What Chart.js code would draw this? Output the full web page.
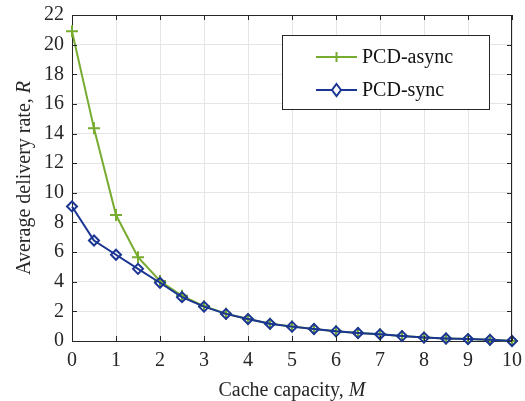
<!DOCTYPE html>
<html>
<head>
<meta charset="utf-8">
<script src="https://cdn.jsdelivr.net/npm/chart.js@4.4.1/dist/chart.umd.min.js"></script>
<style>
  html, body { margin: 0; padding: 0; background: #fff; }
  #wrap { width: 525px; height: 401px; position: relative; }
</style>
</head>
<body>
<div id="wrap"><canvas id="c"></canvas></div>
<script>
// cache capacity M (x values)
var capacity = [0, 0.5, 1, 1.5, 2, 2.5, 3, 3.5, 4, 4.5, 5, 5.5, 6, 6.5, 7, 7.5, 8, 8.5, 9, 9.5, 10];
// average delivery rate R
var rateAsync = [20.9, 14.35, 8.5, 5.65, 4.05, 3.05, 2.35, 1.84, 1.49, 1.17, 0.98, 0.81, 0.66, 0.54, 0.45, 0.33, 0.23, 0.17, 0.13, 0.08, 0.0];
var rateSync  = [9.08, 6.78, 5.82, 4.87, 3.93, 2.96, 2.32, 1.83, 1.48, 1.16, 0.97, 0.81, 0.65, 0.54, 0.45, 0.33, 0.23, 0.17, 0.13, 0.08, 0.0];
var seriesNames = ['PCD-async', 'PCD-sync'];
var xTicks = [0, 1, 2, 3, 4, 5, 6, 7, 8, 9, 10];
var yTicks = [0, 2, 4, 6, 8, 10, 12, 14, 16, 18, 20, 22];

var GREEN = '#77ac30';
var BLUE  = '#1b3593';
var SERIF = '"Liberation Serif", "Times New Roman", serif';

function toPoints(xs, ys) {
  return xs.map(function(x, i) { return { x: x, y: ys[i] }; });
}

// box, inward ticks, axis titles (with italic symbol) and legend
var extras = {
  id: 'extras',
  afterDraw: function(chart) {
    var ctx = chart.ctx;
    var a = chart.chartArea;
    var xs = chart.scales.x, ys = chart.scales.y;
    ctx.save();

    // top and right box edges
    ctx.strokeStyle = '#262626';
    ctx.lineWidth = 1;
    ctx.beginPath();
    ctx.moveTo(a.left, Math.round(a.top) + 0.5); ctx.lineTo(a.right, Math.round(a.top) + 0.5);
    ctx.moveTo(Math.round(a.right) - 0.5, a.top); ctx.lineTo(Math.round(a.right) - 0.5, a.bottom);
    ctx.stroke();

    // inward ticks on all four sides
    ctx.beginPath();
    xTicks.forEach(function(v) {
      var px = Math.round(xs.getPixelForValue(v)) + 0.5;
      ctx.moveTo(px, a.bottom); ctx.lineTo(px, a.bottom - 5);
      ctx.moveTo(px, a.top); ctx.lineTo(px, a.top + 5);
    });
    yTicks.forEach(function(v) {
      var py = Math.round(ys.getPixelForValue(v)) + 0.5;
      ctx.moveTo(a.left, py); ctx.lineTo(a.left + 5, py);
      ctx.moveTo(a.right, py); ctx.lineTo(a.right - 5, py);
    });
    ctx.stroke();

    // x title
    ctx.fillStyle = '#262626';
    ctx.textBaseline = 'alphabetic';
    var t1 = 'Cache capacity, ', t2 = 'M';
    ctx.font = '20px ' + SERIF;
    var w1 = ctx.measureText(t1).width;
    ctx.font = 'italic 20px ' + SERIF;
    var w2 = ctx.measureText(t2).width;
    var cx = (a.left + a.right) / 2 - (w1 + w2) / 2;
    ctx.textAlign = 'left';
    ctx.font = '20px ' + SERIF;
    ctx.fillText(t1, cx, 396);
    ctx.font = 'italic 20px ' + SERIF;
    ctx.fillText(t2, cx + w1, 396);

    // y title (rotated)
    var s1 = 'Average delivery rate, ', s2 = 'R';
    ctx.font = '20px ' + SERIF;
    var v1 = ctx.measureText(s1).width;
    ctx.font = 'italic 20px ' + SERIF;
    var v2 = ctx.measureText(s2).width;
    ctx.save();
    ctx.translate(30, (a.top + a.bottom) / 2);
    ctx.rotate(-Math.PI / 2);
    var sx = -(v1 + v2) / 2;
    ctx.font = '20px ' + SERIF;
    ctx.fillText(s1, sx, 0);
    ctx.font = 'italic 20px ' + SERIF;
    ctx.fillText(s2, sx + v1, 0);
    ctx.restore();

    // legend
    var bx = 282.5, by = 35.5, bw = 207, bh = 74;
    ctx.fillStyle = '#fff';
    ctx.fillRect(bx, by, bw, bh);
    ctx.strokeStyle = '#262626';
    ctx.lineWidth = 1;
    ctx.strokeRect(bx, by, bw, bh);
    var rows = [57, 90];
    var colors = [GREEN, BLUE];
    rows.forEach(function(ry, i) {
      ctx.strokeStyle = colors[i];
      ctx.lineWidth = 2;
      ctx.beginPath();
      ctx.moveTo(316, ry); ctx.lineTo(357, ry);
      ctx.stroke();
      var mx = 336.5;
      ctx.beginPath();
      if (i === 0) {
        ctx.moveTo(mx - 5, ry); ctx.lineTo(mx + 5, ry);
        ctx.moveTo(mx, ry - 5); ctx.lineTo(mx, ry + 5);
        ctx.stroke();
      } else {
        ctx.moveTo(mx, ry - 6); ctx.lineTo(mx + 4.5, ry);
        ctx.lineTo(mx, ry + 6); ctx.lineTo(mx - 4.5, ry);
        ctx.closePath();
        ctx.fillStyle = '#fff';
        ctx.fill();
        ctx.stroke();
      }
      ctx.fillStyle = '#111';
      ctx.font = '20px ' + SERIF;
      ctx.textAlign = 'left';
      ctx.textBaseline = 'middle';
      ctx.fillText(seriesNames[i], 362, ry + 1);
    });

    ctx.restore();
  }
};

new Chart(document.getElementById('c'), {
  type: 'line',
  data: {
    datasets: [
      {
        label: seriesNames[0],
        data: toPoints(capacity, rateAsync),
        borderColor: GREEN,
        backgroundColor: GREEN,
        borderWidth: 2,
        pointStyle: 'cross',
        pointRadius: 6,
        pointBorderWidth: 2,
        tension: 0,
        clip: false,
        order: 2
      },
      {
        label: seriesNames[1],
        data: toPoints(capacity, rateSync),
        borderColor: BLUE,
        backgroundColor: 'rgba(0,0,0,0)',
        borderWidth: 2,
        pointStyle: 'rectRot',
        pointRadius: 5,
        pointBorderWidth: 2,
        tension: 0,
        clip: false,
        order: 1
      }
    ]
  },
  options: {
    responsive: true,
    maintainAspectRatio: false,
    animation: false,
    layout: { autoPadding: false, padding: { left: 0, right: 13, top: 15, bottom: 0 } },
    plugins: {
      legend: { display: false },
      tooltip: { enabled: false }
    },
    scales: {
      x: {
        type: 'linear',
        min: 0, max: 10,
        afterFit: function(s) { s.height = 60; s.paddingLeft = 0; s.paddingRight = 0; },
        afterBuildTicks: function(s) { s.ticks = xTicks.map(function(v) { return { value: v }; }); },
        grid: { color: '#e5e5e5', drawTicks: false },
        border: { color: '#262626', width: 1 },
        ticks: { font: { family: SERIF, size: 20 }, color: '#262626', padding: 8, maxRotation: 0 }
      },
      y: {
        min: 0, max: 22,
        afterFit: function(s) { s.width = 72; s.paddingTop = 0; s.paddingBottom = 0; },
        afterBuildTicks: function(s) { s.ticks = yTicks.map(function(v) { return { value: v }; }); },
        grid: { color: '#e5e5e5', drawTicks: false },
        border: { color: '#262626', width: 1 },
        ticks: { font: { family: SERIF, size: 20 }, color: '#262626', padding: 8 }
      }
    }
  },
  plugins: [extras]
});
</script>
</body>
</html>
